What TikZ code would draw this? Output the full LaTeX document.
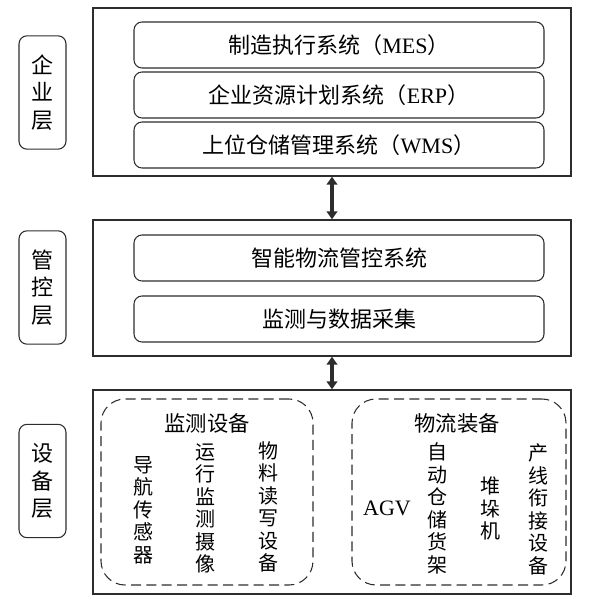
\documentclass[tikz,border=0pt]{standalone}
\usepackage{fontspec}
\setmainfont{Liberation Serif}
\newfontfamily\cjk{Noto Sans CJK SC}
\usepackage{tikz}
\usetikzlibrary{arrows.meta, positioning, fit}
\definecolor{linegray}{RGB}{45,45,45}
\newcommand{\lat}[1]{{\rmfamily #1}}

\begin{document}
\begin{tikzpicture}[x=0.75pt, y=-0.75pt,
  layerbox/.style={draw=linegray, line width=1pt, inner sep=0pt},
  sysbox/.style={draw=linegray, line width=0.8pt, rounded corners=6pt, inner sep=0pt,
                 minimum width=307.5pt, minimum height=34.5pt,
                 font=\cjk\fontsize{16.5}{20}\selectfont},
  tagbox/.style={draw=linegray, line width=0.8pt, rounded corners=6pt, inner sep=0pt,
                 minimum width=35.25pt, minimum height=85pt,
                 align=center, font=\cjk\fontsize{16.5}{20.6}\selectfont},
  groupbox/.style={draw=linegray, line width=0.8pt, dash pattern=on 7.5pt off 4pt,
                   rounded corners=18pt, inner sep=0pt},
  grouptitle/.style={inner sep=0pt, font=\cjk\fontsize{16}{19}\selectfont},
  itemcol/.style={align=center, inner sep=0pt, font=\cjk\fontsize{15}{16.9}\selectfont},
  linkarrow/.style={{Triangle[width=8pt,length=6pt]}-{Triangle[width=8pt,length=6pt]},
                    line width=3pt, linegray}]
  \useasboundingbox (0,0) rectangle (596,602);

  % Layer frames
  \node[layerbox, fit={(93,8) (571,176)}] (ent) {};
  \node[layerbox, fit={(93,220) (571,356)}] (ctl) {};
  \node[layerbox, fit={(93,390) (571,594)}] (dev) {};

  % Layer tags
  \node[tagbox] (enttag) at (42.5,92.5) {企\\业\\层};
  \node[tagbox] (ctltag) at (42.5,287.5) {管\\控\\层};
  \node[tagbox] (devtag) at (42.5,481) {设\\备\\层};

  % Enterprise systems
  \node[sysbox] (mes) at (339,45) {制造执行系统（\lat{MES}）};
  \node[sysbox] (erp) at (339,95) {企业资源计划系统（\lat{ERP}）};
  \node[sysbox] (wms) at (339,145) {上位仓储管理系统（\lat{WMS}）};

  % Control systems
  \node[sysbox] (ctrlsys) at (339,258) {智能物流管控系统};
  \node[sysbox] (datacoll) at (339,319) {监测与数据采集};

  % Device groups
  \node[groupbox, fit={(101,399) (313,585)}] (monitor) {};
  \node[groupbox, fit={(352,399) (566,585)}] (logist) {};
  \node[grouptitle] (montitle) at (207,423) {监测设备};
  \node[grouptitle] (logtitle) at (457,423) {物流装备};

  \node[itemcol] (navsens) at (143,510) {导\\航\\传\\感\\器};
  \node[itemcol] (camera) at (205,508.5) {运\\行\\监\\测\\摄\\像};
  \node[itemcol] (rfid) at (268,507) {物\\料\\读\\写\\设\\备};

  \node[inner sep=0pt, font=\fontsize{16.5}{20}\selectfont] (agv) at (387,508) {AGV};
  \node[itemcol] (rack) at (437,508.5) {自\\动\\仓\\储\\货\\架};
  \node[itemcol] (stacker) at (490,508.5) {堆\\垛\\机};
  \node[itemcol] (lineconn) at (538,509.5) {产\\线\\衔\\接\\设\\备};

  % Links between layers
  \draw[linkarrow] (ent.south) -- (ctl.north);
  \draw[linkarrow] (ctl.south) -- (dev.north);
\end{tikzpicture}
\end{document}
